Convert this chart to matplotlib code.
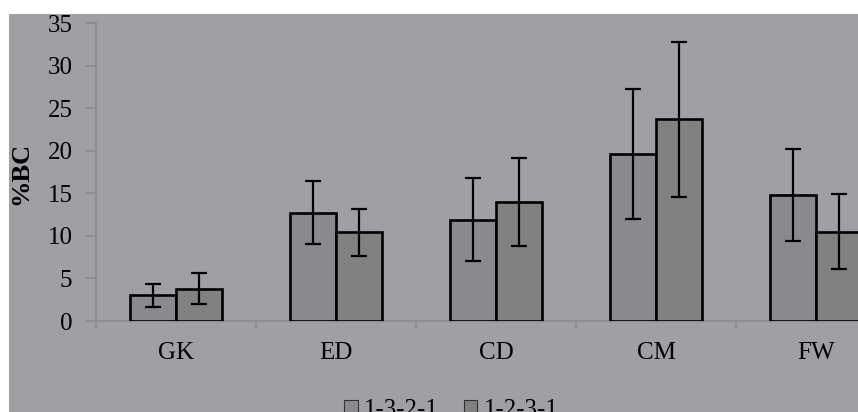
import numpy as np
import matplotlib
matplotlib.use("Agg")
import matplotlib.pyplot as plt
from matplotlib.patches import Rectangle

# ── data ──
categories = ["GK", "ED", "CD", "CM", "FW"]
series_names = ["1-3-2-1", "1-2-3-1"]
vals_1321 = [3.0, 12.7, 11.9, 19.6, 14.8]
err_1321 = [1.4, 3.7, 4.9, 7.6, 5.4]
vals_1231 = [3.8, 10.4, 14.0, 23.7, 10.5]
err_1231 = [1.8, 2.8, 5.2, 9.1, 4.4]
yticks = [0, 5, 10, 15, 20, 25, 30, 35]

BG = "#a09fa3"
C1 = "#8a898d"
C2 = "#818181"
AXC = "#8a8a8a"
FS = 18
plt.rcParams["font.family"] = ["Liberation Serif", "DejaVu Serif"]

W, H = 858, 412
fig = plt.figure(figsize=(W / 100, H / 100), dpi=100, facecolor="white")
fig.patches.append(Rectangle((9 / W, 0), 1, 1 - 14 / H, transform=fig.transFigure,
                             facecolor=BG, edgecolor="none", zorder=-10))

# axes run past the right edge of the picture (the FW group is cut off)
x0, y0, ytop = 96, 321, 23
ax = fig.add_axes([x0 / W, (H - y0) / H, 800 / W, (y0 - ytop) / H])
ax.set_facecolor("none")

x = np.arange(len(categories))
w = 0.29
kw = dict(edgecolor="black", linewidth=1.9, zorder=3)
b1 = ax.bar(x - w / 2, vals_1321, w, color=C1, label=series_names[0], **kw)
b2 = ax.bar(x + w / 2, vals_1231, w, color=C2, label=series_names[1], **kw)
ek = dict(fmt="none", ecolor="black", elinewidth=1.6, capsize=5.5, capthick=1.6, zorder=4)
ax.errorbar(x - w / 2, vals_1321, yerr=err_1321, **ek)
ax.errorbar(x + w / 2, vals_1231, yerr=err_1231, **ek)

ax.set_xlim(-0.5, len(categories) - 0.5)
ax.set_ylim(0, 35)
ax.set_yticks(yticks)
ax.set_yticklabels([str(t) for t in yticks], fontsize=FS)
ax.set_xticks(x)
ax.set_xticklabels(categories, fontsize=FS)
ax.set_xticks(np.arange(len(categories) + 1) - 0.5, minor=True)
ax.tick_params(axis="x", which="major", length=0, pad=15)
ax.tick_params(axis="x", which="minor", length=6, color=AXC, width=1.2, direction="out")
ax.tick_params(axis="y", length=7, color=AXC, width=1.2, pad=10)
ax.spines[["top", "right"]].set_visible(False)
for s in ["left", "bottom"]:
    ax.spines[s].set_color(AXC)
    ax.spines[s].set_linewidth(1.2)

fig.text(21 / W, 1 - 173 / H, "%BC", rotation=90, ha="center", va="center",
         fontsize=19, fontweight="bold")

leg = fig.legend([b1, b2], series_names, loc="center", bbox_to_anchor=(451 / W, 1 - 410 / H),
                 ncol=2, frameon=False, fontsize=FS, handlelength=0.55, handleheight=0.55,
                 handletextpad=0.25, columnspacing=1.0)
for h in leg.legend_handles:
    h.set_linewidth(0.8)
    h.set_edgecolor("#333333")

fig.savefig("out.png", dpi=100, facecolor=fig.get_facecolor())
